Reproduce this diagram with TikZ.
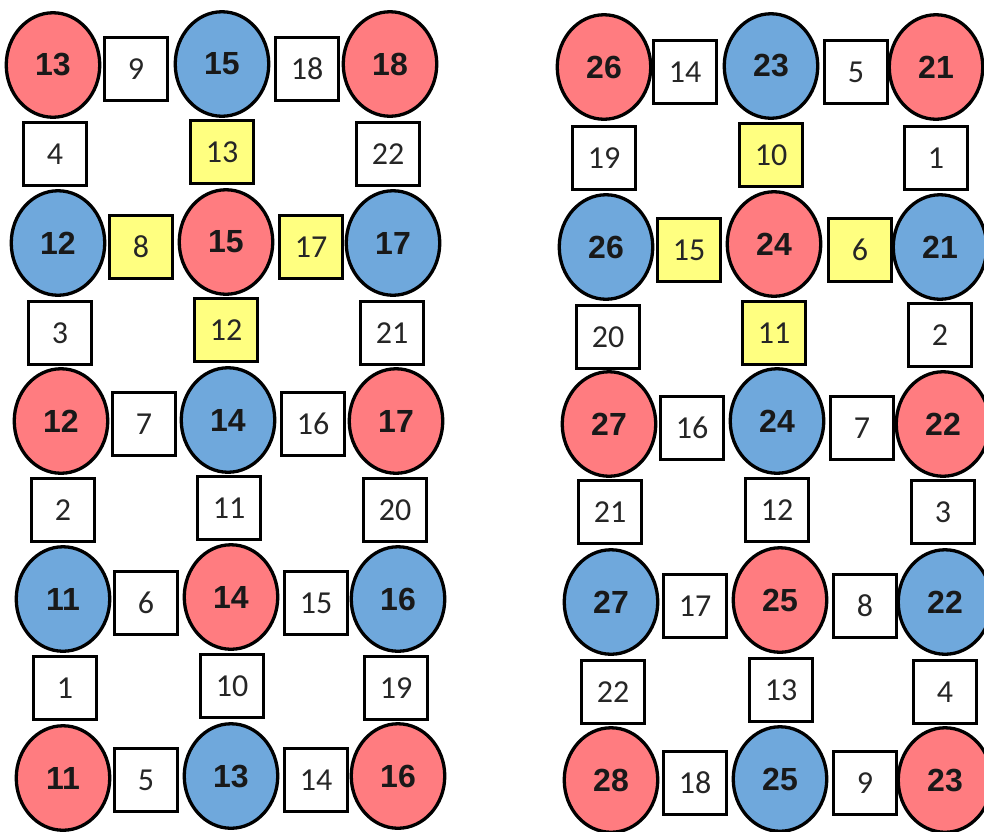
\documentclass[tikz,border=0pt]{standalone}
\usepackage{fontspec}
\usetikzlibrary{shapes.geometric}
\newfontfamily\circfnt{Liberation Sans}
\newfontfamily\sqfnt{Carlito}
\definecolor{cred}{HTML}{FF7C80}
\definecolor{cblue}{HTML}{6FA8DC}
\definecolor{cyel}{HTML}{FFFF80}
\tikzset{
  circnode/.style={ellipse, draw=black, line width=3.3pt, minimum width=93.5pt, minimum height=104.5pt, inner sep=0pt,
    font=\circfnt\bfseries\fontsize{32}{32}\selectfont, text=black!90},
  rc/.style={circnode, fill=cred},
  bc/.style={circnode, fill=cblue},
  sqnode/.style={rectangle, draw=black, line width=3.3pt, minimum width=62.5pt, minimum height=62.5pt, inner sep=0pt,
    font=\sqfnt\fontsize{32}{32}\selectfont, text=black!85},
  ws/.style={sqnode, fill=white},
  ys/.style={sqnode, fill=cyel}
}
\begin{document}
\begin{tikzpicture}[x=1pt,y=-1pt]
\useasboundingbox[fill=white] (0,0) rectangle (984,831);
% ---------- left squares ----------
\node[ws] (Ls9)  at (136,69) {9};
\node[ws] (Ls18) at (307,69) {18};
\node[ws] (Ls4)  at (55,154) {4};
\node[ys] (Ls13) at (222,152) {13};
\node[ws] (Ls22) at (388,154) {22};
\node[ys] (Ls8)  at (141,247) {8};
\node[ys] (Ls17) at (311,247) {17};
\node[ws] (Ls3)  at (60,333) {3};
\node[ys] (Ls12) at (226,330) {12};
\node[ws] (Ls21) at (392,333) {21};
\node[ws] (Ls7)  at (144,424) {7};
\node[ws] (Ls16) at (313,424) {16};
\node[ws] (Ls2)  at (63,510) {2};
\node[ws] (Ls11) at (229,508) {11};
\node[ws] (Ls20) at (395,510) {20};
\node[ws] (Ls6)  at (146,603) {6};
\node[ws] (Ls15) at (316,603) {15};
\node[ws] (Ls1)  at (65,688) {1};
\node[ws] (Ls10) at (232,686) {10};
\node[ws] (Ls19) at (396,688) {19};
\node[ws] (Ls5)  at (146,780) {5};
\node[ws] (Ls14) at (316,780) {14};
% ---------- left circles ----------
\node[rc] (Lc11) at (53,65) {13};
\node[bc] (Lc12) at (222,64) {15};
\node[rc] (Lc13) at (390,64) {18};
\node[bc] (Lc21) at (58,243) {12};
\node[rc] (Lc22) at (226,242) {15};
\node[bc] (Lc23) at (393,243) {17};
\node[rc] (Lc31) at (61,421) {12};
\node[bc] (Lc32) at (228,420) {14};
\node[rc] (Lc33) at (396,421) {17};
\node[bc] (Lc41) at (63,599) {11};
\node[rc] (Lc42) at (231,597) {14};
\node[bc] (Lc43) at (398,599) {16};
\node[rc] (Lc51) at (63,778) {11};
\node[bc] (Lc52) at (231,776) {13};
\node[rc] (Lc53) at (398,776) {16};
% ---------- right squares ----------
\node[ws] (Rs14) at (685,72) {14};
\node[ws] (Rs5)  at (856,72) {5};
\node[ws] (Rs19) at (604,158) {19};
\node[ys] (Rs10) at (771,155) {10};
\node[ws] (Rs1)  at (936,158) {1};
\node[ys] (Rs15) at (689,250) {15};
\node[ys] (Rs6)  at (860,250) {6};
\node[ws] (Rs20) at (608,337) {20};
\node[ys] (Rs11) at (774,333) {11};
\node[ws] (Rs2)  at (940,335) {2};
\node[ws] (Rs16) at (692,428) {16};
\node[ws] (Rs7)  at (862,428) {7};
\node[ws] (Rs21) at (610,512) {21};
\node[ws] (Rs12) at (777,510) {12};
\node[ws] (Rs3)  at (943,512) {3};
\node[ws] (Rs17) at (695,606) {17};
\node[ws] (Rs8)  at (865,606) {8};
\node[ws] (Rs22) at (613,692) {22};
\node[ws] (Rs13) at (781,690) {13};
\node[ws] (Rs4)  at (945,692) {4};
\node[ws] (Rs18) at (695,783) {18};
\node[ws] (Rs9)  at (865,783) {9};
% ---------- right circles ----------
\node[rc] (Rc11) at (604,67) {26};
\node[bc] (Rc12) at (771,66) {23};
\node[rc] (Rc13) at (936,67) {21};
\node[bc] (Rc21) at (606,247) {26};
\node[rc] (Rc22) at (774,244) {24};
\node[bc] (Rc23) at (940,247) {21};
\node[rc] (Rc31) at (609,424) {27};
\node[bc] (Rc32) at (777,421) {24};
\node[rc] (Rc33) at (943,424) {22};
\node[bc] (Rc41) at (611,602) {27};
\node[rc] (Rc42) at (780,600) {25};
\node[bc] (Rc43) at (945,602) {22};
\node[rc] (Rc51) at (611,780) {28};
\node[bc] (Rc52) at (780,779) {25};
\node[rc] (Rc53) at (945,780) {23};
\end{tikzpicture}
\end{document}
